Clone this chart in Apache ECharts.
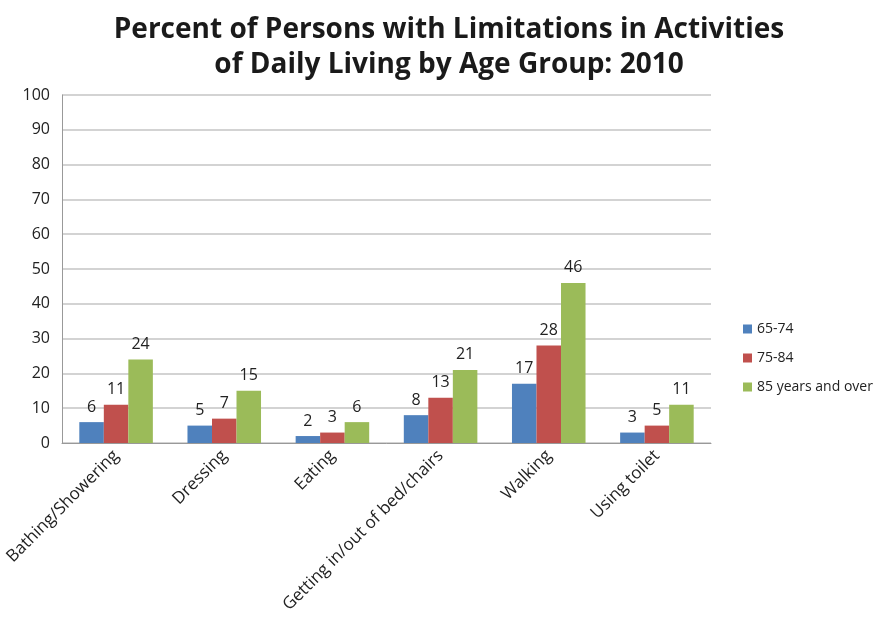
<!DOCTYPE html>
<html>
<head>
<meta charset="utf-8">
<script src="https://cdn.jsdelivr.net/npm/echarts@6/dist/echarts.min.js"></script>
<style>
  html, body { margin: 0; padding: 0; background: #fff; }
  #chart { width: 884px; height: 617px; }
</style>
</head>
<body>
<div id="chart"></div>
<script>
// Activities of daily living and the share of each age group limited in them (%)
const categories = ['Bathing/Showering', 'Dressing', 'Eating', 'Getting in/out of bed/chairs', 'Walking', 'Using toilet'];
const age65to74 = [6, 5, 2, 8, 17, 3];
const age75to84 = [11, 7, 3, 13, 28, 5];
const age85plus = [24, 15, 6, 21, 46, 11];
const seriesNames = ['65-74', '75-84', '85 years and over'];
const yTicks = { min: 0, max: 100, interval: 10 };

const colors = ['#4F81BD', '#C0504D', '#9BBB59'];
const font = 'Open Sans';

function barSeries(name, data, color) {
  return {
    name: name,
    type: 'bar',
    data: data,
    barGap: '0%',
    barCategoryGap: '32%',
    itemStyle: { color: color },
    label: {
      show: true,
      position: 'top',
      distance: 7,
      color: '#222',
      fontFamily: font,
      fontSize: 16
    }
  };
}

const chart = echarts.init(document.getElementById('chart'));
chart.setOption({
  animation: false,
  backgroundColor: '#fff',
  title: {
    text: 'Percent of Persons with Limitations in Activities\nof Daily Living by Age Group: 2010',
    left: 444,
    textAlign: 'center',
    top: 8,
    textStyle: {
      fontFamily: font,
      fontWeight: 'bold',
      fontSize: 28,
      lineHeight: 35,
      color: '#1a1a1a'
    }
  },
  legend: {
    orient: 'vertical',
    left: 738,
    top: 317,
    itemWidth: 9,
    itemHeight: 9,
    itemGap: 15,
    icon: 'rect',
    textStyle: { fontFamily: font, fontSize: 14, color: '#222' },
    data: seriesNames
  },
  grid: { left: 62, right: 173, top: 95, bottom: 174, containLabel: false },
  xAxis: {
    type: 'category',
    data: categories,
    axisLine: { lineStyle: { color: '#999' } },
    axisTick: { show: false },
    axisLabel: {
      rotate: 45,
      interval: 0,
      margin: 10,
      fontFamily: font,
      fontSize: 17,
      color: '#222'
    }
  },
  yAxis: {
    type: 'value',
    min: yTicks.min,
    max: yTicks.max,
    interval: yTicks.interval,
    axisLine: { show: true, lineStyle: { color: '#999' } },
    axisTick: { show: false },
    splitLine: { lineStyle: { color: '#c4c4c4', width: 1.5 } },
    axisLabel: {
      fontFamily: font,
      fontSize: 16,
      color: '#222',
      margin: 12
    }
  },
  series: [
    barSeries(seriesNames[0], age65to74, colors[0]),
    barSeries(seriesNames[1], age75to84, colors[1]),
    barSeries(seriesNames[2], age85plus, colors[2])
  ]
});
</script>
</body>
</html>
